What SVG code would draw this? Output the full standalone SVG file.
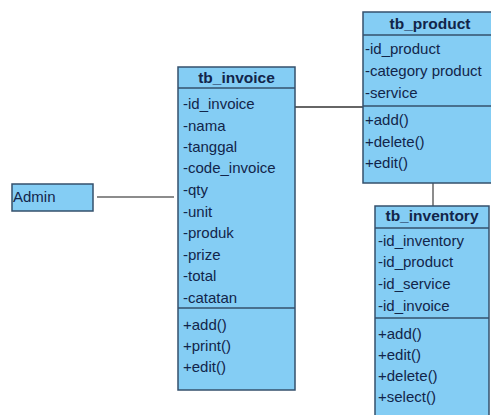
<svg xmlns="http://www.w3.org/2000/svg" width="491" height="415" viewBox="0 0 491 415">
<style>
.box{fill:#84cdf4;stroke:#34506c;stroke-width:1.5}
.div{stroke:#34506c;stroke-width:1.5}
.t{font-family:"Liberation Sans",Arial,sans-serif;font-size:15px;fill:#12254a}
.h{font-family:"Liberation Sans",Arial,sans-serif;font-size:15.5px;font-weight:bold;fill:#12254a;text-anchor:middle}
.c{fill:none;stroke:#333;stroke-width:1.3}
.g{fill:none;stroke:#8c8c8c;stroke-width:2}
</style>
<rect width="491" height="415" fill="#ffffff"/>
<g id="connectors">
<line class="g" x1="97" y1="197" x2="174" y2="197"/>
<line class="c" x1="295" y1="107" x2="363" y2="107"/>
<line class="g" x1="433" y1="183" x2="433" y2="206"/>
</g>
<g id="admin">
<rect class="box" x="12" y="184" width="81" height="27"/>
<text class="t" x="13" y="202">Admin</text>
</g>
<g id="tb_invoice">
<rect class="box" x="178" y="67" width="117" height="323"/>
<line class="div" x1="178" y1="88" x2="295" y2="88"/>
<line class="div" x1="178" y1="308" x2="295" y2="308"/>
<text class="h" x="236.5" y="83">tb_invoice</text>
<text class="t" x="183" y="109">-id_invoice</text>
<text class="t" x="183" y="131">-nama</text>
<text class="t" x="183" y="152">-tanggal</text>
<text class="t" x="183" y="173">-code_invoice</text>
<text class="t" x="183" y="195">-qty</text>
<text class="t" x="183" y="217">-unit</text>
<text class="t" x="183" y="238">-produk</text>
<text class="t" x="183" y="260">-prize</text>
<text class="t" x="183" y="281">-total</text>
<text class="t" x="183" y="303">-catatan</text>
<text class="t" x="183" y="330">+add()</text>
<text class="t" x="183" y="351">+print()</text>
<text class="t" x="183" y="372">+edit()</text>
</g>
<g id="tb_product">
<rect class="box" x="363" y="12" width="134" height="171"/>
<line class="div" x1="363" y1="35" x2="497" y2="35"/>
<line class="div" x1="363" y1="106" x2="497" y2="106"/>
<text class="h" x="430" y="29">tb_product</text>
<text class="t" x="365" y="54">-id_product</text>
<text class="t" x="365" y="76">-category product</text>
<text class="t" x="365" y="98">-service</text>
<text class="t" x="365" y="125">+add()</text>
<text class="t" x="365" y="147">+delete()</text>
<text class="t" x="365" y="168">+edit()</text>
</g>
<g id="tb_inventory">
<rect class="box" x="375" y="206" width="114" height="214"/>
<line class="div" x1="375" y1="228" x2="489" y2="228"/>
<line class="div" x1="375" y1="318" x2="489" y2="318"/>
<text class="h" x="432" y="221">tb_inventory</text>
<text class="t" x="378" y="246">-id_inventory</text>
<text class="t" x="378" y="267">-id_product</text>
<text class="t" x="378" y="289">-id_service</text>
<text class="t" x="378" y="311">-id_invoice</text>
<text class="t" x="378" y="339">+add()</text>
<text class="t" x="378" y="360">+edit()</text>
<text class="t" x="378" y="381">+delete()</text>
<text class="t" x="378" y="402">+select()</text>
</g>
</svg>
